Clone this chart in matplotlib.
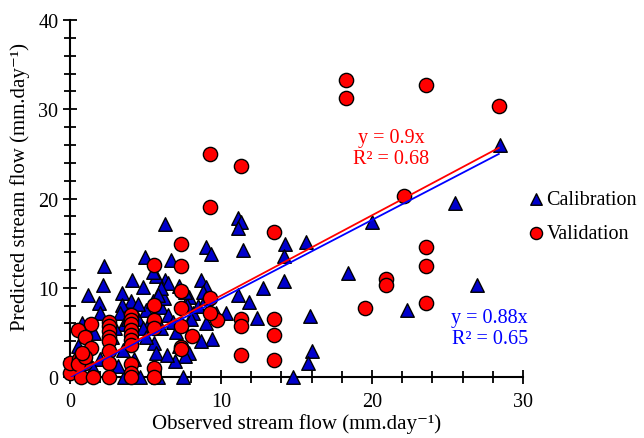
import matplotlib.pyplot as plt
from matplotlib.ticker import MultipleLocator

plt.rcParams['font.family'] = ['Liberation Serif', 'DejaVu Serif']

# Calibration (triangles)
cal_x = [28.45, 25.5, 20.0, 26.95, 18.4, 22.3, 14.75, 15.9, 16.05, 15.75,
         15.6, 14.25, 14.15, 14.15, 12.8, 12.4, 11.85, 11.45, 11.15, 11.3,
         11.15, 11.15, 8.98, 9.3, 8.7, 8.98, 8.98, 9.4, 8.66, 10.35,
         9.67, 7.9, 7.6, 7.5, 6.95, 6.25, 6.65, 6.3, 6.5, 5.7,
         4.95, 4.8, 4.1, 4.05, 3.4, 3.4, 3.3, 3.55, 2.23, 2.18,
         1.9, 1.15, 2.0, 0.8, 1.6, 3.55, 4.6, 5.85, 5.58, 5.66,
         6.4, 7.35, 7.9, 7.75, 8.17, 4.5, 5.0, 5.5, 6.0, 6.2,
         6.5, 6.8, 5.2, 4.8, 3.8, 3.0, 2.8, 2.5, 3.5, 4.2,
         5.0, 6.0, 7.0, 7.2, 8.0, 8.5, 8.8, 9.0, 3.2, 2.0,
         1.5, 1.0, 0.5, 6.0, 5.5, 4.5, 7.2, 7.6, 5.8]
cal_y = [26.0, 19.55, 17.4, 10.3, 11.6, 7.5, 0.0, 6.8, 2.9, 1.6,
         15.1, 14.9, 13.6, 10.8, 10.0, 6.6, 8.4, 14.2, 17.8, 17.4,
         16.7, 9.2, 14.6, 13.8, 10.9, 10.1, 6.0, 4.3, 4.0, 7.2,
         7.2, 2.7, 2.3, 0.0, 1.75, 17.2, 13.1, 10.9, 10.5, 11.3,
         13.4, 10.1, 10.9, 8.5, 9.4, 8.1, 7.2, 5.9, 12.4, 10.3,
         8.3, 9.2, 7.2, 6.1, 4.9, 0.0, 0.0, 0.0, 3.8, 2.7,
         2.5, 6.0, 9.0, 8.1, 7.2, 6.5, 7.5, 8.5, 7.8, 8.8,
         7.0, 6.2, 6.0, 5.5, 6.5, 5.5, 4.5, 3.5, 3.0, 2.0,
         4.5, 5.5, 5.0, 3.5, 6.5, 8.0, 9.5, 8.8, 1.2, 2.0,
         1.0, 2.5, 3.5, 10.0, 11.8, 8.2, 10.2, 9.5, 9.2]

# Validation (circles)
val_x = [18.3, 18.3, 23.6, 28.4, 9.26, 11.35, 9.26, 22.1, 13.5, 7.35,
         7.35, 5.58, 23.6, 23.6, 20.9, 20.9, 23.6, 19.55, 13.5, 13.5,
         13.5, 11.35, 11.35, 11.35, 9.75, 9.26, 9.26, 7.35, 7.35, 7.35,
         7.35, 7.35, 8.1, 5.58, 5.58, 5.58, 5.58, 5.58,
         4.0, 4.0, 4.0, 4.0, 4.0, 4.0, 4.0, 4.0, 4.0, 4.0,
         2.6, 2.6, 2.6, 2.6, 2.6, 2.6, 2.6, 2.6,
         1.4, 0.55, 0.95, 1.4, 0.27, 0.7, 0.0, 0.7, 1.5, 0.95, 0.0,
         0.6, 0.8, 0.9, 0.5, 1.0, 0.75]
val_y = [33.3, 31.3, 32.7, 30.4, 25.0, 23.6, 19.1, 20.3, 16.2, 14.9,
         12.4, 12.5, 14.6, 12.4, 11.0, 10.3, 8.3, 7.7, 6.5, 4.7,
         1.9, 6.5, 5.7, 2.5, 6.4, 8.8, 7.2, 9.6, 7.7, 5.7,
         3.4, 3.1, 4.6, 8.1, 6.4, 5.5, 1.0, 0.0,
         7.0, 6.4, 5.9, 5.3, 4.7, 4.1, 3.6, 1.4, 0.45, 0.0,
         6.2, 5.7, 5.1, 4.5, 4.0, 2.9, 1.6, 0.0,
         5.9, 5.3, 4.5, 3.2, 1.2, 2.3, 0.45, 0.0, 0.0, 1.6, 1.6,
         2.0, 2.4, 1.8, 1.5, 2.2, 2.7]

fit_x = [0, 28.4]
cal_slope = 0.88
val_slope = 0.9

fig = plt.figure(figsize=(6.44, 4.39), dpi=100)
ax = fig.add_axes([0.109, 0.139, 0.703, 0.813])

ax.scatter(cal_x, cal_y, marker='^', s=95, c='#0000CC', edgecolors='black',
           linewidths=1, clip_on=False, zorder=3, label='Calibration')
ax.scatter(val_x, val_y, marker='o', s=105, c='#FF0000', edgecolors='black',
           linewidths=1, clip_on=False, zorder=4, label='Validation')

ax.plot(fit_x, [cal_slope * v for v in fit_x], color='#0000FF', lw=1.3, zorder=5)
ax.plot(fit_x, [val_slope * v + 0.12 for v in fit_x], color='#FF0000',
        lw=1.3, zorder=5)

ax.text(21.25, 25.7, "y = 0.9x\nR² = 0.68", color='#FF0000', fontsize=14.5,
        ha='center', va='center', linespacing=1.15)
ax.text(27.8, 5.5, "y = 0.88x\nR² = 0.65", color='#0000FF', fontsize=14.5,
        ha='center', va='center', linespacing=1.15)

ax.set_xlim(0, 30)
ax.set_ylim(0, 40)
ax.xaxis.set_major_locator(MultipleLocator(10))
ax.xaxis.set_minor_locator(MultipleLocator(2))
ax.yaxis.set_major_locator(MultipleLocator(10))
ax.yaxis.set_minor_locator(MultipleLocator(2))
ax.tick_params(which='both', direction='inout', width=1.3, labelsize=14.5)
ax.tick_params(which='major', length=10)
ax.tick_params(which='minor', length=8)
ax.tick_params(axis='x', pad=6)
for s in ['top', 'right']:
    ax.spines[s].set_visible(False)
for s in ['left', 'bottom']:
    ax.spines[s].set_linewidth(1.5)

ax.set_xlabel("Observed stream flow (mm.day\u207b\u00b9)", fontsize=15, labelpad=1)
ax.set_ylabel("Predicted stream flow (mm.day\u207b\u00b9)", fontsize=15)
ax.yaxis.set_label_coords(-0.088, 0.535)

ax.legend(loc='center left', bbox_to_anchor=(0.99, 0.45), frameon=False,
          fontsize=14.5, handletextpad=0.1, labelspacing=0.75, borderaxespad=0.0,
          markerscale=0.85, handlelength=0.9)

fig.savefig("out.png", dpi=100)
